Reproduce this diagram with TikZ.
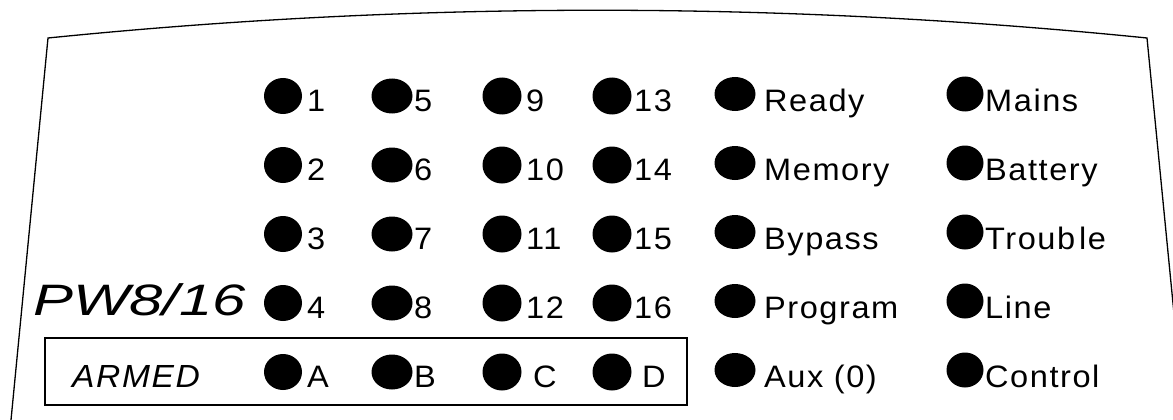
\documentclass[tikz,border=0pt]{standalone}
\usepackage{fontspec}
\setmainfont{Liberation Sans}
\newfontfamily\lblfont{Liberation Sans}[FakeStretch=1.05, LetterSpace=5]
\newfontfamily\pwfont{Liberation Sans}[FakeStretch=1.36]
\usetikzlibrary{shapes.geometric}
\begin{document}
\begin{tikzpicture}[x=1pt,y=-1pt,
  frame/.style={line width=1.3pt, draw=black},
  led/.style={ellipse, fill=black, inner sep=0pt, outer sep=0pt},
  lbl/.style={anchor=base west, inner sep=0pt, font=\lblfont\fontsize{31}{31}\selectfont}]
\useasboundingbox (0,0) rectangle (1173,420);
% outline of the panel
\coordinate (bl) at (11,420);
\coordinate (tl) at (48,38);
\coordinate (tr) at (1147,38);
\coordinate (br) at (1175.6,330);
\draw[frame] (bl) -- (tl) .. controls (414,1) and (781,1) .. (tr) -- (br);
% ARMED box
\node[frame, inner sep=0pt, outer sep=0pt, minimum width=642pt, minimum height=67pt, anchor=north west] (box) at (45,338) {};
% LEDs
\foreach \r/\y in {1/96,2/165,3/234,4/303,5/372}{
  \node[led, minimum width=38pt, minimum height=36pt] (la\r) at (283,\y) {};
  \node[led, minimum width=41pt, minimum height=35pt] (lb\r) at (392,\y) {};
  \node[led, minimum width=39pt, minimum height=37pt] (lc\r) at (502,\y) {};
  \node[led, minimum width=39pt, minimum height=37pt] (ld\r) at (612,\y) {};
  \node[led, minimum width=41pt, minimum height=34pt] (le\r) at (735,\y-2) {};
  \node[led, minimum width=37pt, minimum height=35pt] (lf\r) at (965,\y-2) {};
}
% labels
\foreach \r/\y/\t in {1/96/1,2/165/2,3/234/3,4/303/4,5/372/A}
  \node[lbl] (ta\r) at (307,\y+15) {\t};
\foreach \r/\y/\t in {1/96/5,2/165/6,3/234/7,4/303/8,5/372/B}
  \node[lbl] (tb\r) at (414,\y+15) {\t};
\foreach \r/\y/\t in {1/96/9,2/165/10,3/234/11,4/303/12}
  \node[lbl] (tc\r) at (526,\y+15) {\t};
\node[lbl] (tc5) at (533,387) {C};
\foreach \r/\y/\t in {1/96/13,2/165/14,3/234/15,4/303/16}
  \node[lbl] (td\r) at (634,\y+15) {\t};
\node[lbl] (td5) at (642,387) {D};
\foreach \r/\y/\t in {1/96/Ready,2/165/Memory,3/234/Bypass,4/303/Program,5/372/Aux (0)}
  \node[lbl] (te\r) at (764,\y+15) {\t};
\foreach \r/\y/\t in {1/96/Mains,2/165/Battery,3/234/Troub\kern4pt le,4/303/Line,5/372/Control}
  \node[lbl] (tf\r) at (985,\y+15) {\t};
% model name and ARMED
\node[anchor=base west, inner sep=0pt, font=\pwfont\itshape\fontsize{44}{44}\selectfont] (pw) at (33,315) {PW8/16};
\node[anchor=base west, inner sep=0pt, font=\lblfont\itshape\fontsize{32}{32}\selectfont] (armed) at (72,387) {ARMED};
\end{tikzpicture}
\end{document}
